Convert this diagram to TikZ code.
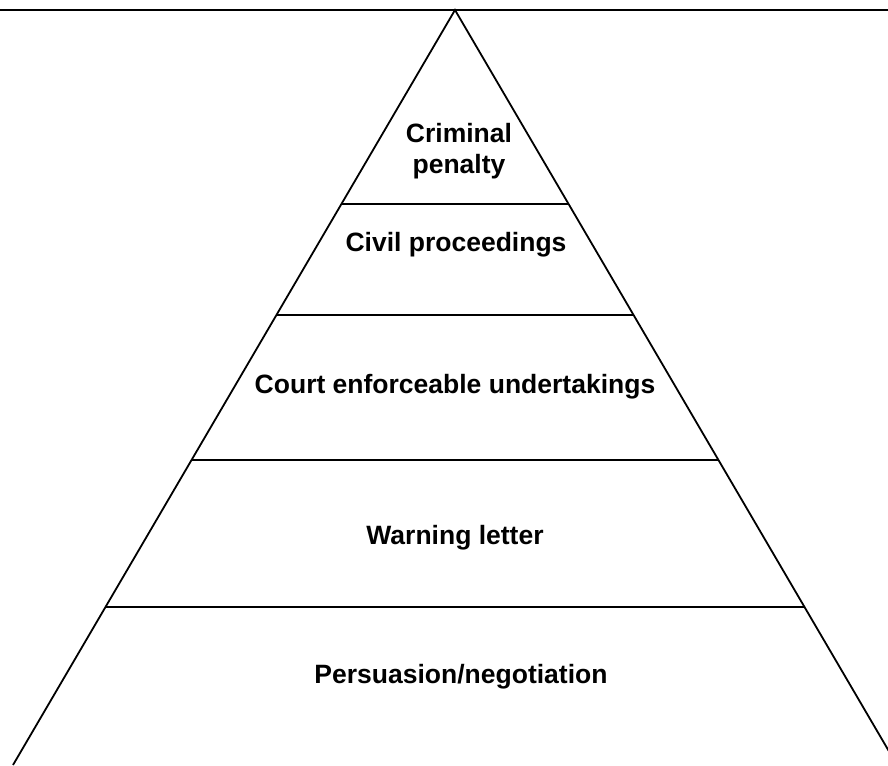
\documentclass[tikz,border=0pt]{standalone}
\usepackage{fontspec}
\setmainfont{Liberation Sans}
\usepackage{tikz}
\usetikzlibrary{calc}
\tikzset{lvl/.style={font=\fontsize{26.5}{31}\selectfont\bfseries,align=center,inner sep=0pt},
         edge/.style={line width=1.8pt}}

\begin{document}
\begin{tikzpicture}[x=1pt,y=-1pt]
    \useasboundingbox (0,0) rectangle (888,765);
    \clip (0,0) rectangle (888,765);
    \coordinate (top) at (455,10);
    \coordinate (bl) at (13,765);
    \coordinate (br) at (897,765);
    \coordinate (tl) at (0,10);
    \coordinate (tr) at (888,10);

    \draw [line width=2.6pt] (tl) -- (tr);
    \draw [edge] (bl) -- (top) -- (br);

    \foreach \t [count=\i] in {0.257,0.404,0.596,0.791}{
        \coordinate (l\i) at ($(top)!\t!(bl)$);
        \coordinate (r\i) at ($(top)!\t!(br)$);
        \draw [edge] (l\i) -- (r\i);
    }

    \node[lvl] (crim) at (459,151) {Criminal\\penalty};
    \node[lvl] (civ) at (456,245) {Civil proceedings};
    \node[lvl] (cou) at (455,387) {Court enforceable undertakings};
    \node[lvl] (war) at (455,538) {Warning letter};
    \node[lvl] (per) at (461,677) {Persuasion/negotiation};
\end{tikzpicture}
\end{document}
